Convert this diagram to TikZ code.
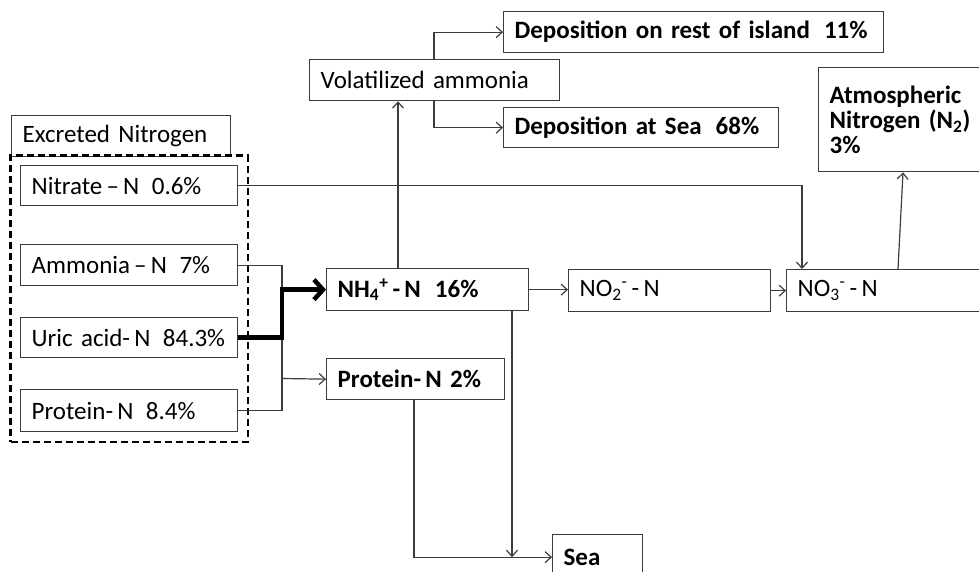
\documentclass[tikz,border=0pt]{standalone}
\usepackage{fontspec}
\setmainfont{Carlito}
\usetikzlibrary{arrows.meta,fit}
\definecolor{ln}{HTML}{3C3C3C}
\begin{document}
\begin{tikzpicture}[x=1pt,y=-1pt,
            box/.style={draw=ln,line width=1.3pt,anchor=north west,align=left,inner xsep=11pt,inner ysep=2pt,font=\fontsize{25}{25}\selectfont},
            bbox/.style={box,font=\fontsize{25}{25}\selectfont\bfseries},
            con/.style={draw=ln,line width=1.2pt},
            arr/.style={con,-{Straight Barb[length=6pt,width=11pt]}},
            big/.style={draw=black,line width=4.5pt,-{Straight Barb[length=9pt,width=20pt]}},
            grp/.style={draw=black,line width=2.6pt,dash pattern=on 7pt off 4pt,inner sep=9.5pt},
        ]
    \useasboundingbox (0,0) rectangle (979,572);
    \node[box,text width=197pt,minimum height=41pt] (exc) at (11,115) {Excreted Nitrogen};
    \node[box,text width=195pt,minimum height=40pt] (nitrate) at (20,165) {Nitrate\,–\,N\enspace 0.6\%};
    \node[box,text width=195pt,minimum height=41pt] (ammonia) at (20,244) {Ammonia\,–\,N\enspace 7\%};
    \node[box,text width=195pt,minimum height=40pt] (uric) at (20,317) {Uric acid-\,N\enspace 84.3\%};
    \node[box,text width=195pt,minimum height=42pt] (protL) at (20,389) {Protein-\,N\enspace 8.4\%};
    \node[grp,fit=(nitrate)(protL)] (excgrp) {};

    \node[bbox,text width=180pt,minimum height=42pt] (nh4) at (326,268) {NH\textsubscript{4}\textsuperscript{+}\,-\,N\hspace{14pt}16\%};
    \node[box,text width=180pt,minimum height=42pt] (no2) at (568,269) {NO\textsubscript{2}\textsuperscript{-}\,-\,N};
    \node[box,text width=182pt,minimum height=42pt] (no3) at (786,269) {NO\textsubscript{3}\textsuperscript{-}\,-\,N};
    \node[bbox,text width=156pt,minimum height=41pt] (protR) at (326,358) {Protein-\,N 2\%};

    \node[box,text width=228pt,minimum height=41pt] (vol) at (309,59) {Volatilized ammonia};
    \node[bbox,text width=358pt,minimum height=41pt] (depI) at (503,11) {Deposition on rest of island\hspace{14pt}11\%};
    \node[bbox,text width=253pt,minimum height=40pt] (depS) at (503,107) {Deposition at Sea\hspace{14pt}68\%};
    \node[bbox,text width=150pt,minimum height=104pt] (atm) at (818,67) {Atmospheric\\Nitrogen (N\textsubscript{2})\\3\%};
    \node[bbox,text width=68pt,minimum height=45pt] (sea) at (552,534) {Sea};

    \draw[arr] (nitrate.east) -| ([xshift=16pt]no3.north west);
    \coordinate (jn) at (282,378.5);
    \draw[con] (ammonia.east) -| (jn);
    \draw[con] (protL.east) -| (jn);
    \draw[arr] (jn) -- (protR.west);
    \draw[big] (uric.east) -| ([xshift=-44pt]nh4.west) -- (nh4.west);

    \draw[arr] (nh4.east) -- (no2.west |- nh4.east);
    \draw[arr] (no2.east) -- (no3.west);
    \draw[arr] ([xshift=112pt]no3.north west) -- ([xshift=85pt]atm.south west);
    \draw[arr] ([xshift=72pt]nh4.north west) -- ([xshift=89pt]vol.south west);
    \draw[arr] ([xshift=125pt]vol.north west) |- (depI.west);
    \draw[arr] ([xshift=125pt]vol.south west) |- (depS.west);

    \coordinate (nhb) at ([xshift=186pt]nh4.south west);
    \draw[arr] (nhb) -- (nhb |- sea.west);
    \coordinate (prb) at ([xshift=88pt]protR.south west);
    \draw[arr] (prb) |- (sea.west);
\end{tikzpicture}
\end{document}
